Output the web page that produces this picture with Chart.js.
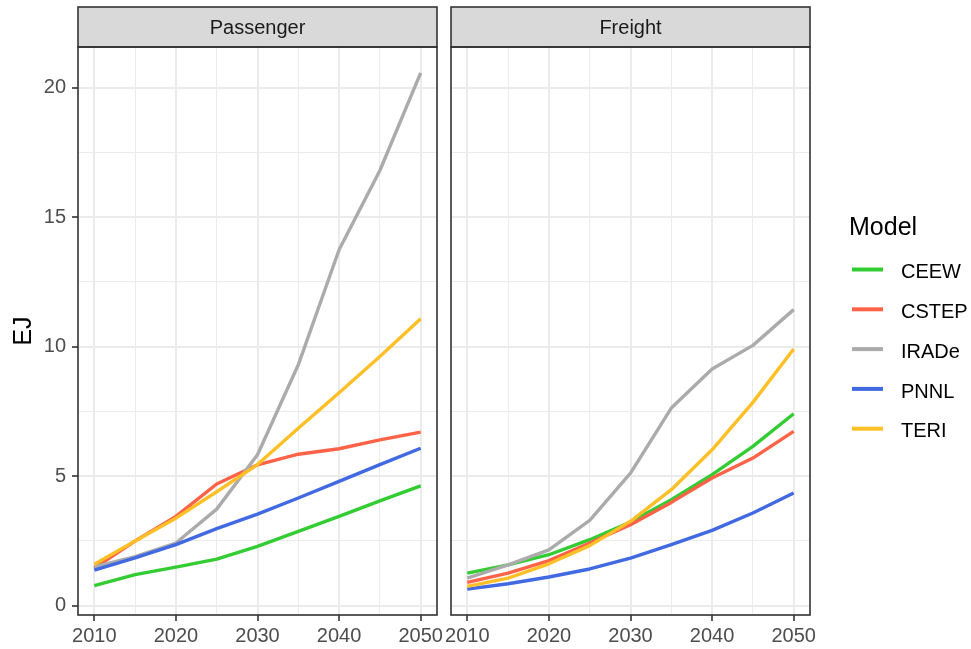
<!DOCTYPE html>
<html>
<head>
<meta charset="utf-8">
<title>Transport energy by model</title>
<script src="https://cdn.jsdelivr.net/npm/chart.js@4.4.1/dist/chart.umd.min.js"></script>
<style>
  html, body { margin: 0; padding: 0; background: #ffffff; }
  #wrap { position: relative; width: 971px; height: 649px; overflow: hidden; }
  #wrap canvas { position: absolute; left: 0; top: 0; }
</style>
</head>
<body>
<div id="wrap">
  <canvas id="passenger" width="971" height="649"></canvas>
  <canvas id="freight" width="971" height="649"></canvas>
</div>
<script>
// ---- data (EJ) ----
const years = [2010, 2015, 2020, 2025, 2030, 2035, 2040, 2045, 2050];
const models = ['CEEW', 'CSTEP', 'IRADe', 'PNNL', 'TERI'];
const modelColors = ['#33CC33', '#FF6347', '#ABABAB', '#4169E1', '#FFBF26'];
const panelTitles = ['Passenger', 'Freight'];

const passengerCEEW  = [0.78, 1.20, 1.49, 1.80, 2.29, 2.87, 3.45, 4.05, 4.63];
const passengerCSTEP = [1.45, 2.50, 3.45, 4.70, 5.44, 5.85, 6.06, 6.40, 6.70];
const passengerIRADe = [1.50, 1.90, 2.42, 3.73, 5.83, 9.30, 13.74, 16.80, 20.57];
const passengerPNNL  = [1.38, 1.85, 2.36, 2.98, 3.54, 4.16, 4.80, 5.45, 6.08];
const passengerTERI  = [1.60, 2.50, 3.38, 4.40, 5.45, 6.85, 8.22, 9.62, 11.08];

const freightCEEW  = [1.26, 1.58, 1.97, 2.55, 3.23, 4.09, 5.06, 6.15, 7.41];
const freightCSTEP = [0.90, 1.26, 1.74, 2.42, 3.13, 3.99, 4.93, 5.70, 6.73];
const freightIRADe = [1.07, 1.58, 2.16, 3.30, 5.12, 7.63, 9.14, 10.05, 11.43];
const freightPNNL  = [0.64, 0.85, 1.11, 1.42, 1.84, 2.36, 2.91, 3.58, 4.35];
const freightTERI  = [0.75, 1.07, 1.62, 2.32, 3.26, 4.48, 6.02, 7.85, 9.91];

// tick positions: major ticks are labelled, minor ones only get a thin grid line
const xTicks = [2010, 2015, 2020, 2025, 2030, 2035, 2040, 2045, 2050];
const yTicks = [0, 2.5, 5, 7.5, 10, 12.5, 15, 17.5, 20];

const passengerSeries = [passengerCEEW, passengerCSTEP, passengerIRADe, passengerPNNL, passengerTERI];
const freightSeries = [freightCEEW, freightCSTEP, freightIRADe, freightPNNL, freightTERI];

// ---- shared scale limits, padded 5% on each side ----
const allValues = passengerSeries.concat(freightSeries).flat();
const yLo = Math.min(...allValues), yHi = Math.max(...allValues);
const yPad = (yHi - yLo) * 0.05;
const xLo = Math.min(...years), xHi = Math.max(...years);
const xPad = (xHi - xLo) * 0.05;

const FONT = '"Liberation Sans", Arial, Helvetica, sans-serif';
const GRID = '#EBEBEB';
const INK = '#333333';

function makeDatasets(series) {
  return models.map((name, i) => ({
    label: name,
    data: years.map((yr, j) => ({ x: yr, y: series[i][j] })),
    borderColor: modelColors[i],
    backgroundColor: modelColors[i],
    borderWidth: 3.4,
    borderCapStyle: 'butt',
    borderJoinStyle: 'round',
    pointRadius: 0,
    tension: 0,
    fill: false,
    order: models.length - i
  }));
}

// strip header and panel frame around the plot area
const facetFrame = {
  id: 'facetFrame',
  afterDraw(chart, args, opts) {
    const { ctx, chartArea: a } = chart;
    ctx.save();
    ctx.fillStyle = '#D9D9D9';
    ctx.fillRect(a.left, 7, a.right - a.left, a.top - 7);
    ctx.strokeStyle = INK;
    ctx.lineWidth = 1.6;
    ctx.strokeRect(a.left, 7, a.right - a.left, a.top - 7);
    ctx.strokeRect(a.left, a.top, a.right - a.left, a.bottom - a.top);
    ctx.fillStyle = '#1A1A1A';
    ctx.font = '20px ' + FONT;
    ctx.textAlign = 'center';
    ctx.textBaseline = 'alphabetic';
    ctx.fillText(opts.title, (a.left + a.right) / 2, 34);
    ctx.restore();
  }
};

// legend for the model colours, drawn at the right edge
const modelLegend = {
  id: 'modelLegend',
  afterDraw(chart, args, opts) {
    if (!opts.show) return;
    const { ctx } = chart;
    ctx.save();
    ctx.fillStyle = '#000000';
    ctx.textAlign = 'left';
    ctx.textBaseline = 'alphabetic';
    ctx.font = '25px ' + FONT;
    ctx.fillText('Model', 849, 235);
    ctx.font = '20px ' + FONT;
    const sets = chart.data.datasets;
    sets.forEach((ds, i) => {
      const cy = 269.5 + i * 39.8;
      ctx.strokeStyle = ds.borderColor;
      ctx.lineWidth = 4;
      ctx.lineCap = 'butt';
      ctx.beginPath();
      ctx.moveTo(852, cy);
      ctx.lineTo(883, cy);
      ctx.stroke();
      ctx.fillStyle = '#000000';
      ctx.fillText(ds.label, 901, cy + 8.6);
    });
    ctx.restore();
  }
};

function buildPanel(canvasId, series, title, withYAxis, padLeft, padRight) {
  return new Chart(document.getElementById(canvasId), {
    type: 'line',
    data: { datasets: makeDatasets(series) },
    plugins: [facetFrame, modelLegend],
    options: {
      responsive: false,
      animation: false,
      events: [],
      layout: { padding: { left: padLeft, right: padRight, top: 47, bottom: 0 } },
      plugins: {
        legend: { display: false },
        tooltip: { enabled: false },
        facetFrame: { title: title },
        modelLegend: { show: !withYAxis }
      },
      scales: {
        x: {
          type: 'linear',
          min: xLo - xPad,
          max: xHi + xPad,
          afterBuildTicks: (s) => { s.ticks = xTicks.map(v => ({ value: v })); },
          afterFit: (s) => { s.height = 34; },
          border: { display: false },
          grid: {
            color: GRID,
            lineWidth: (c) => (c.tick && c.tick.value % 10 === 0) ? 2 : 1,
            drawTicks: true,
            tickLength: 6,
            tickWidth: 1.6,
            tickColor: (c) => (c.tick && c.tick.value % 10 === 0) ? INK : 'rgba(0,0,0,0)'
          },
          ticks: {
            autoSkip: false,
            maxRotation: 0,
            padding: 3,
            color: '#4D4D4D',
            font: { family: FONT, size: 20 },
            callback: (v) => (v % 10 === 0) ? String(v) : ''
          }
        },
        y: {
          type: 'linear',
          min: yLo - yPad,
          max: yHi + yPad,
          afterBuildTicks: (s) => { s.ticks = yTicks.map(v => ({ value: v })); },
          afterFit: (s) => { s.width = withYAxis ? 78 : 0; },
          border: { display: false },
          grid: {
            color: GRID,
            lineWidth: (c) => (c.tick && c.tick.value % 5 === 0) ? 2 : 1,
            drawTicks: withYAxis,
            tickLength: 6,
            tickWidth: 1.6,
            tickColor: (c) => (c.tick && c.tick.value % 5 === 0) ? INK : 'rgba(0,0,0,0)'
          },
          ticks: {
            display: withYAxis,
            autoSkip: false,
            padding: 6,
            color: '#4D4D4D',
            font: { family: FONT, size: 20 },
            callback: (v) => (v % 5 === 0) ? String(v) : ''
          },
          title: {
            display: withYAxis,
            text: 'EJ',
            color: '#000000',
            font: { family: FONT, size: 25 },
            padding: { top: 9, bottom: 0 }
          }
        }
      }
    }
  });
}

buildPanel('passenger', passengerSeries, panelTitles[0], true, 0, 971 - 437);
buildPanel('freight', freightSeries, panelTitles[1], false, 451, 971 - 810);
</script>
</body>
</html>
